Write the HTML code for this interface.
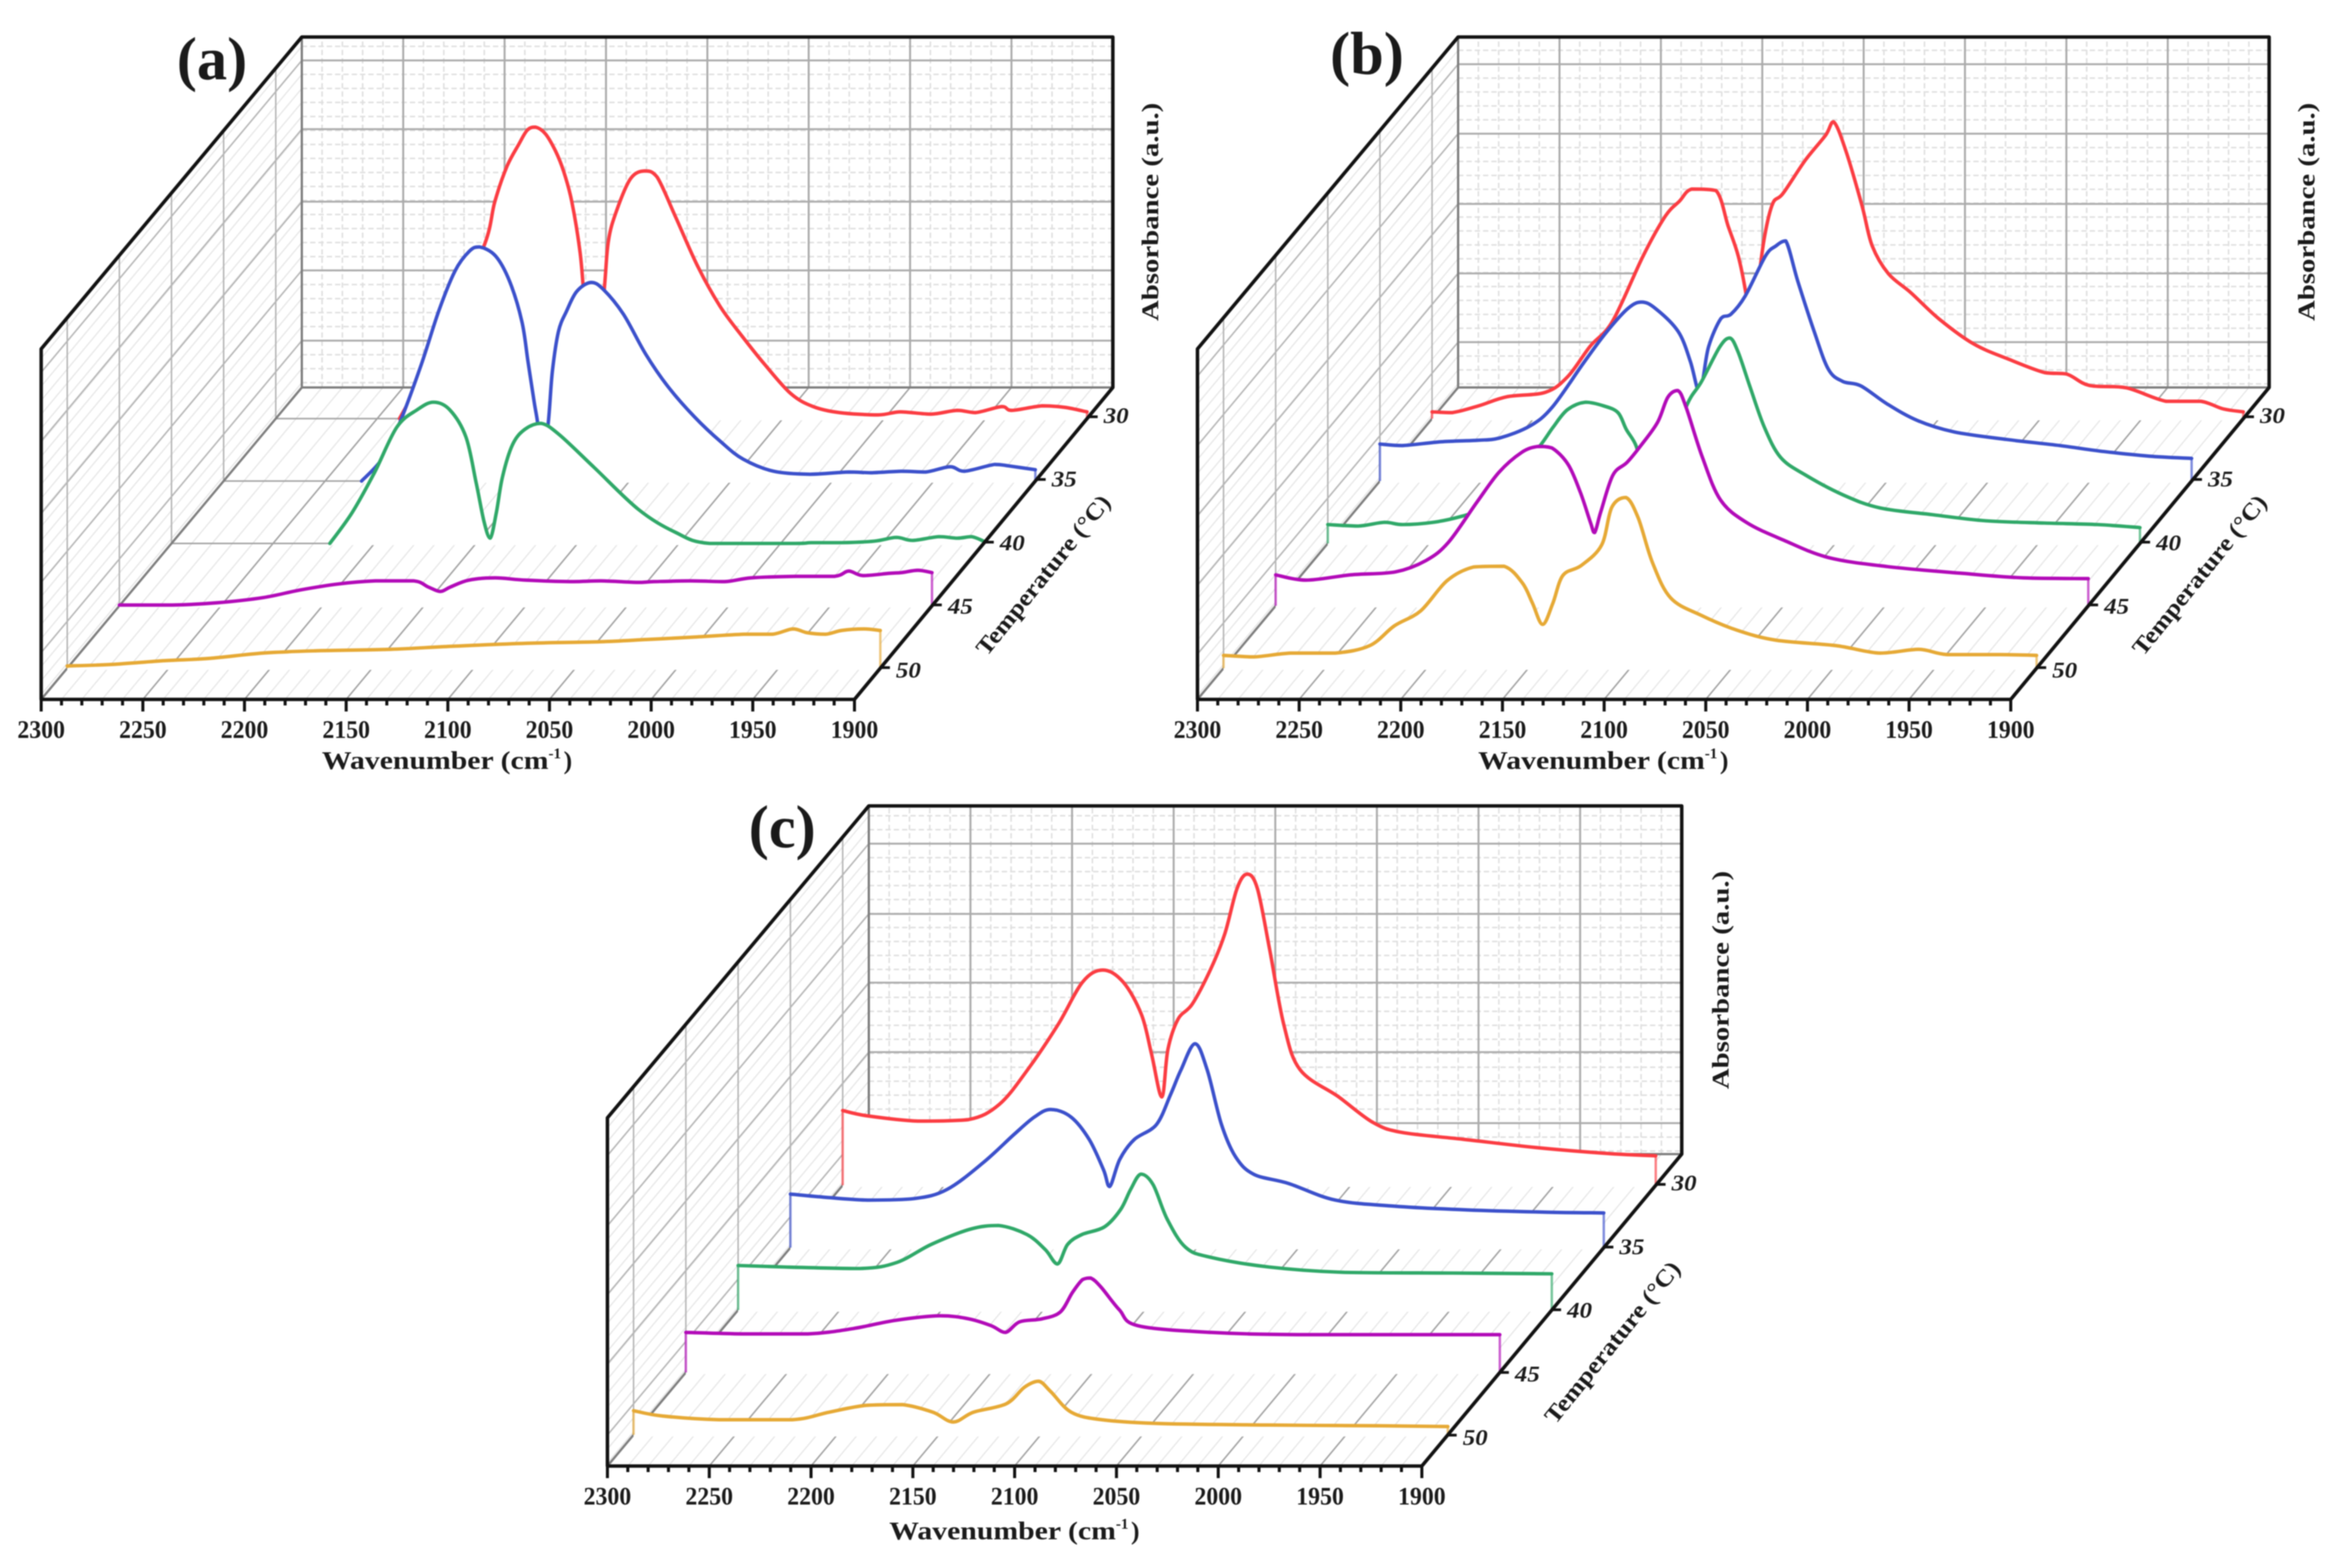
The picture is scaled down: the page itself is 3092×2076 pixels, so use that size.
<!DOCTYPE html>
<html lang="en">
<head>
<meta charset="utf-8">
<title>Absorbance waterfall charts</title>
<style>
html,body{margin:0;padding:0;background:#fff;}
svg{display:block;filter:blur(0.7px);}
text{font-family:"Liberation Serif",serif;fill:#1a1a1a;font-weight:bold;}
</style>
</head>
<body>
<svg id="figure" xmlns="http://www.w3.org/2000/svg" width="3092" height="2076" viewBox="0 0 3092 2076">
<rect width="3092" height="2076" fill="#fff"/>

<g id="panel-a" transform="translate(0,0)">
  <g class="plot"></g>
  <text x="234" y="105" font-size="80">(a)</text>
  <text x="426" y="1018" font-size="34" textLength="300" lengthAdjust="spacingAndGlyphs">Wavenumber (cm</text>
  <text x="726" y="1004" font-size="20">-1</text>
  <text x="746" y="1018" font-size="34">)</text>
  <text transform="translate(1533,425) rotate(-90)" font-size="32" textLength="289" lengthAdjust="spacingAndGlyphs">Absorbance (a.u.)</text>
  <text transform="translate(1306,870) rotate(-51)" font-size="31" textLength="263" lengthAdjust="spacingAndGlyphs">Temperature (°C)</text>
</g>

<g id="panel-b" transform="translate(1530.5,0)">
  <g class="plot"></g>
  <text x="230" y="98" font-size="80">(b)</text>
  <text x="426" y="1018" font-size="34" textLength="300" lengthAdjust="spacingAndGlyphs">Wavenumber (cm</text>
  <text x="726" y="1004" font-size="20">-1</text>
  <text x="746" y="1018" font-size="34">)</text>
  <text transform="translate(1533,425) rotate(-90)" font-size="32" textLength="289" lengthAdjust="spacingAndGlyphs">Absorbance (a.u.)</text>
  <text transform="translate(1306,870) rotate(-51)" font-size="31" textLength="263" lengthAdjust="spacingAndGlyphs">Temperature (°C)</text>
</g>

<g id="panel-c" transform="translate(749.5,1015)">
  <g class="plot"></g>
  <text x="241.5" y="107" font-size="80">(c)</text>
  <text x="427.5" y="1023" font-size="34" textLength="300" lengthAdjust="spacingAndGlyphs">Wavenumber (cm</text>
  <text x="727.5" y="1009" font-size="20">-1</text>
  <text x="747.5" y="1023" font-size="34">)</text>
  <text transform="translate(1538.5,427) rotate(-90)" font-size="32" textLength="289" lengthAdjust="spacingAndGlyphs">Absorbance (a.u.)</text>
  <text transform="translate(1309,872) rotate(-51)" font-size="31" textLength="266" lengthAdjust="spacingAndGlyphs">Temperature (°C)</text>
</g>
</svg>

<script>
/* ---------- axis data ---------- */
const xTickLabels = [2300,2250,2200,2150,2100,2050,2000,1950,1900];
const tempTickLabels = [30,35,40,45,50];
const zTicksA = [0.62,1.55,2.46,3.42,4.33];
const zTicksB = [0.60,1.51,2.43,3.36,4.28];
const zTicksC = [0.41,1.35,2.27,3.18,4.11];

/* ---------- panel (a) spectra ---------- */
const wnA30 = [2239,2229,2214,2197,2192,2186,2180,2176,2172,2167,2162,2158,2154,2150,2148,2145,2143,2138,2136,2132,2125,2118,2112,2103,2092,2081,2070,2059,2046,2035,2022,2003,1992,1977,1964,1955,1942,1937,1922,1911,1900];
const absA30 = [0,0.49,1.29,2.31,2.87,3.34,3.64,3.82,3.86,3.77,3.54,3.27,2.87,2.21,1.62,0.76,0.2,1.72,2.35,2.75,3.18,3.28,3.20,2.68,2.02,1.49,1.09,0.72,0.33,0.16,0.08,0.05,0.09,0.06,0.11,0.08,0.16,0.11,0.17,0.15,0.09];
const wnA35 = [2232,2222,2214,2203,2194,2186,2179,2174,2166,2159,2153,2150,2147,2145,2143,2140,2138,2135,2131,2126,2119,2113,2103,2092,2081,2068,2055,2044,2029,2011,1992,1981,1966,1954,1942,1935,1920,1913,1900];
const absA35 = [0,0.29,0.72,1.51,2.25,2.78,3.04,3.10,2.98,2.64,2.11,1.58,1.05,0.72,0.15,0.78,1.45,1.98,2.25,2.51,2.63,2.54,2.21,1.68,1.25,0.85,0.52,0.29,0.13,0.09,0.12,0.11,0.13,0.12,0.19,0.13,0.22,0.20,0.15];
const wnA40 = [2222,2211,2200,2189,2179,2171,2163,2155,2150,2146,2143,2140,2137,2132,2126,2118,2109,2092,2070,2052,2035,1993,1985,1970,1954,1943,1935,1922,1913,1906,1900];
const absA40 = [0,0.41,0.94,1.54,1.77,1.87,1.77,1.41,0.81,0.28,0.07,0.41,0.88,1.31,1.51,1.59,1.44,1.01,0.45,0.15,0,0,0.01,0.01,0.03,0.08,0.04,0.09,0.07,0.09,0.03];
const wnA45 = [2300,2274,2252,2229,2211,2192,2174,2155,2148,2142,2137,2128,2115,2100,2078,2063,2045,2037,2019,2002,1989,1967,1948,1941,1934,1921,1915,1907,1900];
const absA45 = [0.01,0.01,0.04,0.11,0.21,0.29,0.33,0.33,0.25,0.19,0.25,0.34,0.37,0.34,0.32,0.33,0.31,0.32,0.33,0.32,0.37,0.39,0.39,0.46,0.40,0.43,0.44,0.47,0.44];
const wnA50 = [2300,2278,2252,2230,2204,2178,2141,2111,2074,2038,2015,1993,1967,1953,1943,1936,1927,1919,1908,1900];
const absA50 = [0.03,0.05,0.10,0.13,0.20,0.23,0.25,0.29,0.33,0.35,0.38,0.41,0.45,0.45,0.52,0.47,0.45,0.50,0.52,0.50];

/* ---------- panel (b) spectra ---------- */
const wnB30 = [2300,2290,2277,2263,2244,2233,2222,2211,2196,2185,2178,2172,2160,2154,2149,2145,2142,2139,2136,2132,2127,2116,2106,2102,2096,2088,2083,2075,2064,2050,2033,2016,1998,1987,1976,1958,1938,1921,1910,1900];
const absB30 = [0.09,0.08,0.17,0.29,0.35,0.56,0.96,1.29,2.15,2.68,2.88,3.04,3.02,2.55,2.15,1.62,1.02,1.82,2.42,2.85,2.98,3.42,3.75,3.93,3.55,2.82,2.29,1.92,1.67,1.32,0.99,0.79,0.61,0.59,0.44,0.41,0.23,0.23,0.13,0.09];
const wnB35 = [2300,2289,2270,2252,2241,2226,2215,2200,2189,2178,2171,2164,2153,2147,2143,2141,2138,2132,2127,2120,2110,2105,2100,2094,2086,2079,2072,2063,2050,2035,2017,1991,1965,1943,1921,1900];
const absB35 = [0.49,0.47,0.52,0.54,0.57,0.73,0.98,1.55,1.95,2.28,2.37,2.28,1.98,1.58,1.18,1.32,1.78,2.15,2.21,2.45,2.98,3.11,3.18,2.64,1.98,1.48,1.32,1.26,1.02,0.80,0.65,0.55,0.47,0.39,0.33,0.30];
const wnB40 = [2300,2285,2272,2263,2248,2234,2228,2215,2204,2195,2189,2182,2173,2164,2157,2153,2148,2145,2142,2136,2131,2123,2116,2107,2102,2098,2092,2085,2077,2065,2046,2028,2002,1976,1947,1921,1900];
const absB40 = [0.25,0.23,0.28,0.25,0.28,0.36,0.43,0.71,1.01,1.31,1.54,1.77,1.87,1.82,1.73,1.51,1.28,0.88,0.40,0.88,1.21,1.84,2.14,2.60,2.72,2.54,2.07,1.54,1.14,0.91,0.64,0.47,0.38,0.30,0.27,0.25,0.21];
const wnB45 = [2300,2285,2263,2241,2226,2215,2201,2190,2179,2171,2164,2156,2150,2145,2143,2140,2134,2127,2120,2112,2107,2102,2098,2090,2081,2068,2050,2028,1999,1962,1932,1900];
const absB45 = [0.41,0.34,0.41,0.45,0.60,0.84,1.37,1.77,2.03,2.11,2.09,1.87,1.50,1.10,0.97,1.24,1.73,1.90,2.13,2.43,2.76,2.85,2.63,1.97,1.40,1.10,0.87,0.64,0.52,0.43,0.37,0.36];
const wnB50 = [2300,2285,2267,2245,2228,2216,2203,2190,2177,2162,2153,2148,2143,2138,2133,2124,2114,2109,2102,2096,2089,2080,2065,2047,2028,1999,1977,1958,1944,1918,1900];
const absB50 = [0.17,0.15,0.20,0.20,0.30,0.56,0.76,1.16,1.34,1.35,1.13,0.86,0.58,0.86,1.23,1.36,1.63,2.13,2.26,1.99,1.40,0.93,0.70,0.50,0.37,0.30,0.20,0.25,0.18,0.18,0.17];

/* ---------- panel (c) spectra ---------- */
const wnC30 = [2300,2288,2263,2238,2223,2209,2194,2182,2172,2162,2153,2148,2143,2140,2135,2128,2119,2112,2106,2101,2096,2090,2083,2075,2056,2039,2025,1995,1959,1923,1900];
const absC30 = [0.99,0.92,0.85,0.87,1.07,1.53,2.13,2.69,2.85,2.69,2.26,1.73,1.17,1.80,2.20,2.40,2.86,3.33,3.93,4.12,3.93,3.13,2.13,1.53,1.17,0.83,0.70,0.61,0.50,0.42,0.39];
const wnC35 = [2300,2284,2262,2239,2223,2205,2190,2180,2172,2162,2153,2146,2143,2138,2131,2120,2113,2108,2101,2095,2088,2081,2072,2055,2032,2003,1967,1928,1900];
const absC35 = [0.71,0.67,0.63,0.65,0.77,1.13,1.50,1.73,1.83,1.73,1.43,1.03,0.81,1.17,1.43,1.63,2.03,2.35,2.70,2.35,1.63,1.20,0.97,0.85,0.63,0.55,0.50,0.47,0.46];
const wnC40 = [2300,2277,2240,2222,2205,2186,2172,2158,2149,2143,2138,2131,2120,2112,2107,2102,2096,2089,2080,2068,2039,2003,1949,1900];
const absC40 = [0.59,0.57,0.55,0.63,0.87,1.07,1.12,1.00,0.80,0.61,0.87,1.00,1.10,1.33,1.60,1.80,1.66,1.20,0.83,0.70,0.57,0.50,0.49,0.48];
const wnC45 = [2300,2272,2240,2218,2197,2175,2161,2150,2143,2136,2125,2116,2110,2105,2101,2096,2087,2078,2042,1995,1900];
const absC45 = [0.53,0.51,0.51,0.58,0.69,0.75,0.71,0.62,0.53,0.67,0.71,0.80,1.06,1.23,1.25,1.13,0.83,0.62,0.53,0.50,0.50];
const wnC50 = [2300,2286,2258,2222,2204,2186,2168,2153,2143,2133,2117,2108,2101,2095,2085,2070,2042,1988,1934,1900];
const absC50 = [0.32,0.25,0.20,0.20,0.30,0.39,0.40,0.30,0.17,0.30,0.41,0.63,0.71,0.57,0.30,0.20,0.15,0.13,0.12,0.11];

const seriesColors = {30:'#fb3c42',35:'#3b50cb',40:'#2fa868',45:'#b20ab8',50:'#e6a935'};
const seriesNames = {30:'red',35:'blue',40:'green',45:'purple',50:'yellow'};

const panelA = {id:'a',zTicks:zTicksA,wn:{30:wnA30,35:wnA35,40:wnA40,45:wnA45,50:wnA50},abs:{30:absA30,35:absA35,40:absA40,45:absA45,50:absA50}};
const panelB = {id:'b',zTicks:zTicksB,wn:{30:wnB30,35:wnB35,40:wnB40,45:wnB45,50:wnB50},abs:{30:absB30,35:absB35,40:absB40,45:absB45,50:absB50}};
const panelC = {id:'c',zTicks:zTicksC,wn:{30:wnC30,35:wnC35,40:wnC40,45:wnC45,50:wnC50},abs:{30:absC30,35:absC35,40:absC40,45:absC45,50:absC50}};

/* ---------- frame geometry ---------- */
const FX = 54.5, FY = 926, DY = 413;
let W = 1076.5, DX = 345, H = 464, TAPER = 3, TICK0 = 0.102;
const SVGNS = 'http://www.w3.org/2000/svg';

function depth(temp){ return 0.1 + (50 - temp) / 20 * 0.8; }
function tickDepth(temp){ return TICK0 + (50 - temp) / 20 * 0.804; }
function sx(wn, d){ return FX + (2300 - wn) / 400 * (W - TAPER * d) + d * DX; }
function sy(a, d){ return FY - d * DY - a * 100; }

function mk(parent, tag, props){
  const el = document.createElementNS(SVGNS, tag);
  for (const k in props) el.setAttribute(k, props[k]);
  parent.appendChild(el);
  return el;
}
function fx(v){ return v.toFixed(1); }
function clampTo(v, a, b){ const lo = Math.min(a, b), hi = Math.max(a, b); return Math.max(lo, Math.min(hi, v)); }

function smoothPath(pts){
  let d = 'M' + fx(pts[0][0]) + ' ' + fx(pts[0][1]);
  for (let i = 0; i < pts.length - 1; i++){
    const p0 = pts[Math.max(0, i - 1)], p1 = pts[i], p2 = pts[i + 1], p3 = pts[Math.min(pts.length - 1, i + 2)];
    const c1x = p1[0] + (p2[0] - p0[0]) / 6;
    const c1y = clampTo(p1[1] + (p2[1] - p0[1]) / 6, p1[1], p2[1]);
    const c2x = p2[0] - (p3[0] - p1[0]) / 6;
    const c2y = clampTo(p2[1] - (p3[1] - p1[1]) / 6, p1[1], p2[1]);
    d += 'C' + fx(c1x) + ' ' + fx(c1y) + ' ' + fx(c2x) + ' ' + fx(c2y) + ' ' + fx(p2[0]) + ' ' + fx(p2[1]);
  }
  return d;
}

function drawFrame(g, panel){
  const pre = 'panel-' + panel.id + '-';
  const dMajor = [], dMinorBack = [], dWallMinor = [], dWallMajor = [], dFloorMajor = [], dFloorMinor = [];
  const zTicks = panel.zTicks;
  const step = (zTicks[zTicks.length - 1] - zTicks[0]) / (zTicks.length - 1);
  const minorStep = step / 5;
  const start = zTicks[0] - Math.floor(zTicks[0] / minorStep) * minorStep;
  for (let z = start; z < H / 100; z += minorStep){
    dMinorBack.push('M' + fx(sx(2300, 1)) + ' ' + fx(sy(z, 1)) + 'L' + fx(sx(1900, 1)) + ' ' + fx(sy(z, 1)));
    dWallMinor.push('M' + fx(sx(2300, 0)) + ' ' + fx(sy(z, 0)) + 'L' + fx(sx(2300, 1)) + ' ' + fx(sy(z, 1)));
  }
  for (let wn = 2290; wn > 1900; wn -= 10){
    if (wn % 50 === 0) continue;
    dMinorBack.push('M' + fx(sx(wn, 1)) + ' ' + fx(sy(0, 1)) + 'L' + fx(sx(wn, 1)) + ' ' + fx(sy(H / 100, 1)));
    dFloorMinor.push('M' + fx(sx(wn, 0)) + ' ' + fx(sy(0, 0)) + 'L' + fx(sx(wn, 1)) + ' ' + fx(sy(0, 1)));
  }
  xTickLabels.forEach(function(wn){
    if (wn === 2300 || wn === 1900) return;
    dMajor.push('M' + fx(sx(wn, 1)) + ' ' + fx(sy(0, 1)) + 'L' + fx(sx(wn, 1)) + ' ' + fx(sy(H / 100, 1)));
    dFloorMajor.push('M' + fx(sx(wn, 0)) + ' ' + fx(sy(0, 0)) + 'L' + fx(sx(wn, 1)) + ' ' + fx(sy(0, 1)));
  });
  zTicks.forEach(function(z){
    dMajor.push('M' + fx(sx(2300, 1)) + ' ' + fx(sy(z, 1)) + 'L' + fx(sx(1900, 1)) + ' ' + fx(sy(z, 1)));
    dWallMajor.push('M' + fx(sx(2300, 0)) + ' ' + fx(sy(z, 0)) + 'L' + fx(sx(2300, 1)) + ' ' + fx(sy(z, 1)));
  });
  tempTickLabels.forEach(function(t){
    const d = depth(t);
    dWallMajor.push('M' + fx(sx(2300, d)) + ' ' + fx(sy(0, d)) + 'L' + fx(sx(2300, d)) + ' ' + fx(sy(H / 100, d)));
    dFloorMajor.push('M' + fx(sx(2300, d)) + ' ' + fx(sy(0, d)) + 'L' + fx(sx(1900, d)) + ' ' + fx(sy(0, d)));
  });

  let el;
  el = mk(g, 'path', {d: dMinorBack.join(''), fill:'none', stroke:'#dfdfdf', 'stroke-width':2, 'stroke-dasharray':'7 4'});
  
  
  el = mk(g, 'path', {d: dWallMinor.join(''), fill:'none', stroke:'#e6e6e6', 'stroke-width':1.6});
  
  
  el = mk(g, 'path', {d: dFloorMinor.join(''), fill:'none', stroke:'#e6e6e6', 'stroke-width':1.6});
  
  
  el = mk(g, 'path', {d: dMajor.join(''), fill:'none', stroke:'#ababab', 'stroke-width':2.6});
  
  
  el = mk(g, 'path', {d: dWallMajor.join(''), fill:'none', stroke:'#b6b6b6', 'stroke-width':2});
  
  
  el = mk(g, 'path', {d: dFloorMajor.join(''), fill:'none', stroke:'#a2a2a2', 'stroke-width':2});
  
  

  const backEdge = 'M' + fx(sx(2300, 1)) + ' ' + fx(sy(H / 100, 1)) + 'L' + fx(sx(2300, 1)) + ' ' + fx(sy(0, 1)) + 'L' + fx(sx(1900, 1)) + ' ' + fx(sy(0, 1)) + 'M' + fx(sx(2300, 0)) + ' ' + fx(sy(0, 0)) + 'L' + fx(sx(2300, 1)) + ' ' + fx(sy(0, 1));
  el = mk(g, 'path', {d: backEdge, fill:'none', stroke:'#7e7e7e', 'stroke-width':3});
  
  
}

function drawSeries(g, panel, temp){
  const pre = 'panel-' + panel.id + '-';
  const wn = panel.wn[temp], ab = panel.abs[temp];
  const d = depth(temp), color = seriesColors[temp];
  const pts = wn.map(function(w, i){ return [sx(w, d), sy(Math.max(ab[i], 0), d)]; });
  const group = mk(g, 'g', {});
  
  

  /* split into runs that stand above the floor */
  const runs = [];
  let run = [];
  pts.forEach(function(p, i){
    const visible = ab[i] > 0 || (i > 0 && ab[i - 1] > 0) || (i < pts.length - 1 && ab[i + 1] > 0);
    if (visible) run.push(p);
    else { if (run.length > 1) runs.push(run); run = []; }
  });
  if (run.length > 1) runs.push(run);

  /* white ribbon hides everything behind it, including its own floor grid line */
  const floorY = sy(0, d) + 2.2;
  runs.forEach(function(r){
    const area = smoothPath(r) + 'L' + fx(r[r.length - 1][0]) + ' ' + fx(floorY) + 'L' + fx(r[0][0]) + ' ' + fx(floorY) + 'Z';
    const fillEl = mk(group, 'path', {d: area, fill:'#fff', stroke:'none'});
    
    
  });

  /* thin drop lines at the spectrum limits */
  [0, pts.length - 1].forEach(function(i){
    if (ab[i] <= 0) return;
    if (wn[i] !== 2300 && wn[i] !== 1900) return;
    const dropEl = mk(group, 'line', {x1: fx(pts[i][0]), y1: fx(pts[i][1]), x2: fx(pts[i][0]), y2: fx(sy(0, d)), stroke: color, 'stroke-width':3.2, opacity:0.65});
    
    
  });

  runs.forEach(function(r){
    const lineEl = mk(group, 'path', {d: smoothPath(r), fill:'none', stroke: color, 'stroke-width':4.6, 'stroke-linejoin':'round', 'stroke-linecap':'round'});
    
    
  });
}

function drawAxes(g, panel){
  const pre = 'panel-' + panel.id + '-';
  const frame = 'M' + fx(sx(2300, 0)) + ' ' + fx(sy(0, 0)) + 'L' + fx(sx(2300, 0)) + ' ' + fx(sy(H / 100, 0)) + 'L' + fx(sx(2300, 1)) + ' ' + fx(sy(H / 100, 1)) + 'L' + fx(sx(1900, 1)) + ' ' + fx(sy(H / 100, 1)) + 'L' + fx(sx(1900, 1)) + ' ' + fx(sy(0, 1)) + 'L' + fx(sx(1900, 0)) + ' ' + fx(sy(0, 0)) + 'L' + fx(sx(2300, 0)) + ' ' + fx(sy(0, 0)) + 'Z';
  let el = mk(g, 'path', {d: frame, fill:'none', stroke:'#111', 'stroke-width':4.6, 'stroke-linejoin':'round'});
  
  

  let ticks = '';
  for (let wn = 2300; wn >= 1900; wn -= 10){
    const len = wn % 50 === 0 ? 16 : 8;
    ticks += 'M' + fx(sx(wn, 0)) + ' ' + FY + 'v' + len;
  }
  el = mk(g, 'path', {d: ticks, fill:'none', stroke:'#111', 'stroke-width':4});
  
  

  xTickLabels.forEach(function(wn){
    const t = mk(g, 'text', {x: fx(sx(wn, 0)), y: FY + 51, 'font-size':34, 'text-anchor':'middle', textLength:63, lengthAdjust:'spacingAndGlyphs'});
    t.textContent = wn;
    
    
  });

  tempTickLabels.forEach(function(temp){
    const d = tickDepth(temp), x = sx(1900, d), y = sy(0, d);
    const tk = mk(g, 'line', {x1: fx(x), y1: fx(y), x2: fx(x + 12), y2: fx(y), stroke:'#111', 'stroke-width':3.6});
    
    
    const t = mk(g, 'text', {x: fx(x + 20), y: fx(y + 13 - (50 - temp) * 0.25), 'font-size':30, 'font-style':'italic', textLength:33, lengthAdjust:'spacingAndGlyphs'});
    t.textContent = temp;
    
    
  });
}

[panelA, panelB, panelC].forEach(function(panel){
  if (panel.id === 'c') { W = 1078; DX = 346; H = 461; TAPER = 2; TICK0 = 0.099; }
  else { W = 1076.5; DX = 345; H = 464; TAPER = 3; TICK0 = 0.102; }
  const g = document.querySelector('#panel-' + panel.id + ' .plot');
  drawFrame(g, panel);
  tempTickLabels.forEach(function(temp){ drawSeries(g, panel, temp); });
  drawAxes(g, panel);
});
</script>
</body>
</html>
